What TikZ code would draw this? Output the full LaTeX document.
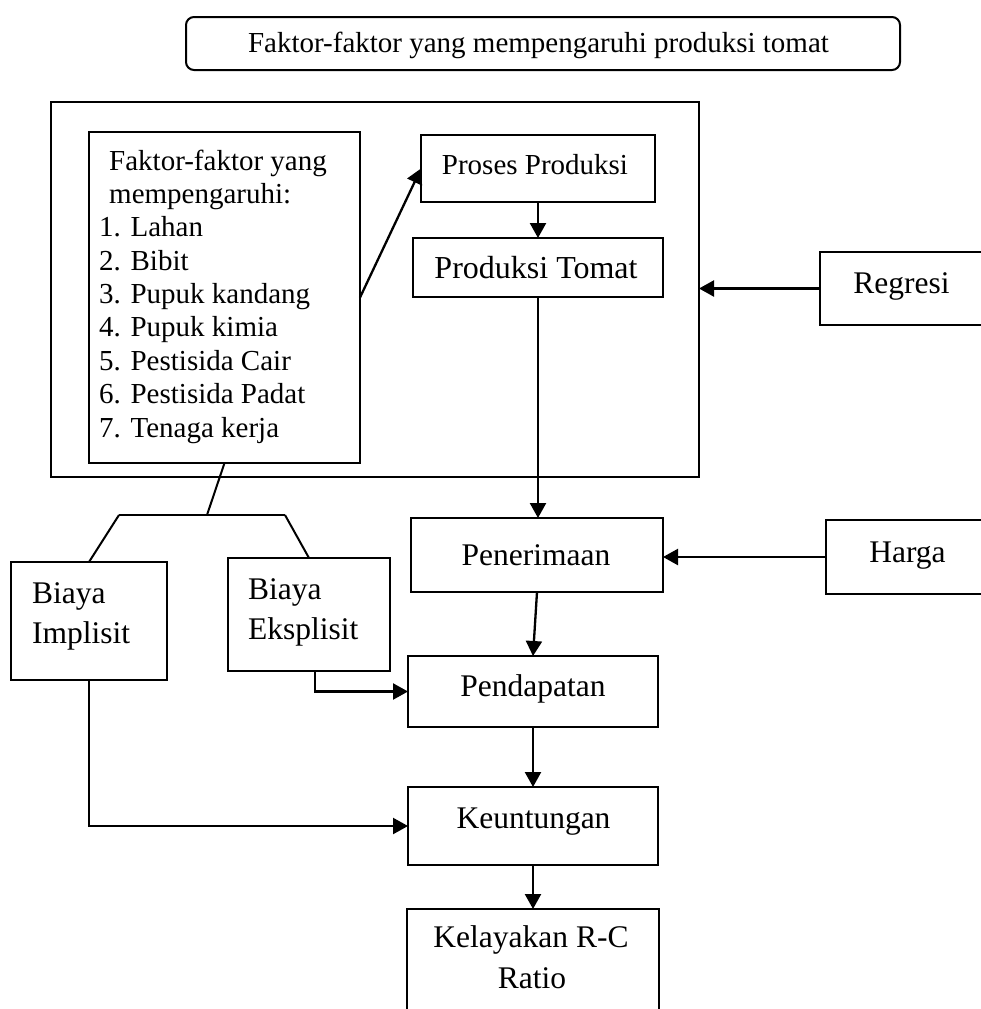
\documentclass[tikz,border=0pt]{standalone}
\usepackage{fontspec}
\setmainfont{Liberation Serif}
\usetikzlibrary{arrows.meta}
\begin{document}
\begin{tikzpicture}[x=1pt,y=-1pt,
 box/.style={draw, line width=2pt, inner sep=0pt, outer sep=0pt},
 arr/.style={line width=2.3pt, -{Triangle[length=15pt,width=16pt]}},
 ln/.style={line width=2pt},
 txt/.style={anchor=base, inner sep=0pt, font=\fontsize{31.5}{40}\selectfont},
 lefttxt/.style={anchor=base west, inner sep=0pt, font=\fontsize{31.5}{40}\selectfont},
 listtxt/.style={anchor=base west, inner sep=0pt, font=\fontsize{29}{33}\selectfont}]
\useasboundingbox (0,0) rectangle (981,1009);
\clip (0,0) rectangle (981,1009);
\fill[white] (0,0) rectangle (981,1009);

% title
\node[box, rounded corners=8pt, minimum width=714pt, minimum height=53pt] (title) at (543,43.5) {};
\node[txt, font=\fontsize{29}{33}\selectfont] (titletext) at (538.5,52) {Faktor-faktor yang mempengaruhi produksi tomat};

% outer frame and list box
\node[box, minimum width=648pt, minimum height=375pt] (outer) at (375,289.5) {};
\node[box, minimum width=271pt, minimum height=331pt] (list) at (224.5,297.5) {};
\node[listtxt] (l0) at (109,170) {Faktor-faktor yang};
\node[listtxt] (l1) at (109,203.4) {mempengaruhi:};
\node[listtxt] (l2) at (99,236.8) {1. Lahan};
\node[listtxt] (l3) at (99,270.1) {2. Bibit};
\node[listtxt] (l4) at (99,303.5) {3. Pupuk kandang};
\node[listtxt] (l5) at (99,336.9) {4. Pupuk kimia};
\node[listtxt] (l6) at (99,370.3) {5. Pestisida Cair};
\node[listtxt] (l7) at (99,403.6) {6. Pestisida Padat};
\node[listtxt] (l8) at (99,437) {7. Tenaga kerja};

% production boxes
\node[box, minimum width=234pt, minimum height=67pt] (proses) at (538,168.5) {};
\node[txt, font=\fontsize{29}{33}\selectfont] (prosestext) at (535,174) {Proses Produksi};
\node[box, minimum width=250pt, minimum height=59pt] (tomat) at (538,267.5) {};
\node[txt, font=\fontsize{32}{40}\selectfont] (tomattext) at (536,278) {Produksi Tomat};

% right boxes (cut by page edge)
\node[box, minimum width=200pt, minimum height=73pt] (regresi) at (920,288.5) {};
\node[txt] (regresitext) at (901.5,293) {Regresi};
\node[box, minimum width=200pt, minimum height=74pt] (harga) at (926,557) {};
\node[txt] (hargatext) at (907.5,562) {Harga};

% centre column
\node[box, minimum width=252pt, minimum height=74pt] (penerimaan) at (537,555) {};
\node[txt] (penerimaantext) at (536,565) {Penerimaan};
\node[box, minimum width=250pt, minimum height=71pt] (pendapatan) at (533,691.5) {};
\node[txt] (pendapatantext) at (533,696) {Pendapatan};
\node[box, minimum width=250pt, minimum height=78pt] (keuntungan) at (533,826) {};
\node[txt] (keuntungantext) at (533.5,828) {Keuntungan};
\node[box, minimum width=252pt, minimum height=140pt] (kelayakan) at (533,979) {};
\node[txt] (kel1) at (531,947) {Kelayakan R-C};
\node[txt] (kel2) at (532,988) {Ratio};

% cost boxes
\node[box, minimum width=156pt, minimum height=118pt] (implisit) at (89,621) {};
\node[lefttxt] (imp1) at (32,603) {Biaya};
\node[lefttxt] (imp2) at (32,643) {Implisit};
\node[box, minimum width=162pt, minimum height=113pt] (eksplisit) at (309,614.5) {};
\node[lefttxt] (eks1) at (248,599) {Biaya};
\node[lefttxt] (eks2) at (248,639) {Eksplisit};

% branch lines
\coordinate (brM) at (207,515);
\coordinate (brL) at (119,515);
\coordinate (brR) at (285,515);
\draw[ln] (list.south) -- (brM);
\draw[ln] (brL) -- (brR);
\draw[ln] (brL) -- (implisit.north);
\draw[ln] (brR) -- (eksplisit.north);

% arrows
\draw[arr] (list.east) -- (proses.west);
\draw[arr] (proses.south) -- (tomat.north);
\draw[arr] (regresi.west) -- (outer.east |- regresi.west);
\draw[arr] (tomat.south) -- (tomat.south |- penerimaan.north);
\draw[arr] (harga.west) -- (penerimaan.east |- harga.west);
\draw[arr] (penerimaan.south) -- (pendapatan.north);
\draw[arr] (pendapatan.south) -- (keuntungan.north);
\draw[arr] (keuntungan.south) -- (kelayakan.north);
\draw[arr] ([xshift=6pt]eksplisit.south) |- (pendapatan.west);
\draw[arr] (implisit.south) |- (keuntungan.west);
\end{tikzpicture}
\end{document}
